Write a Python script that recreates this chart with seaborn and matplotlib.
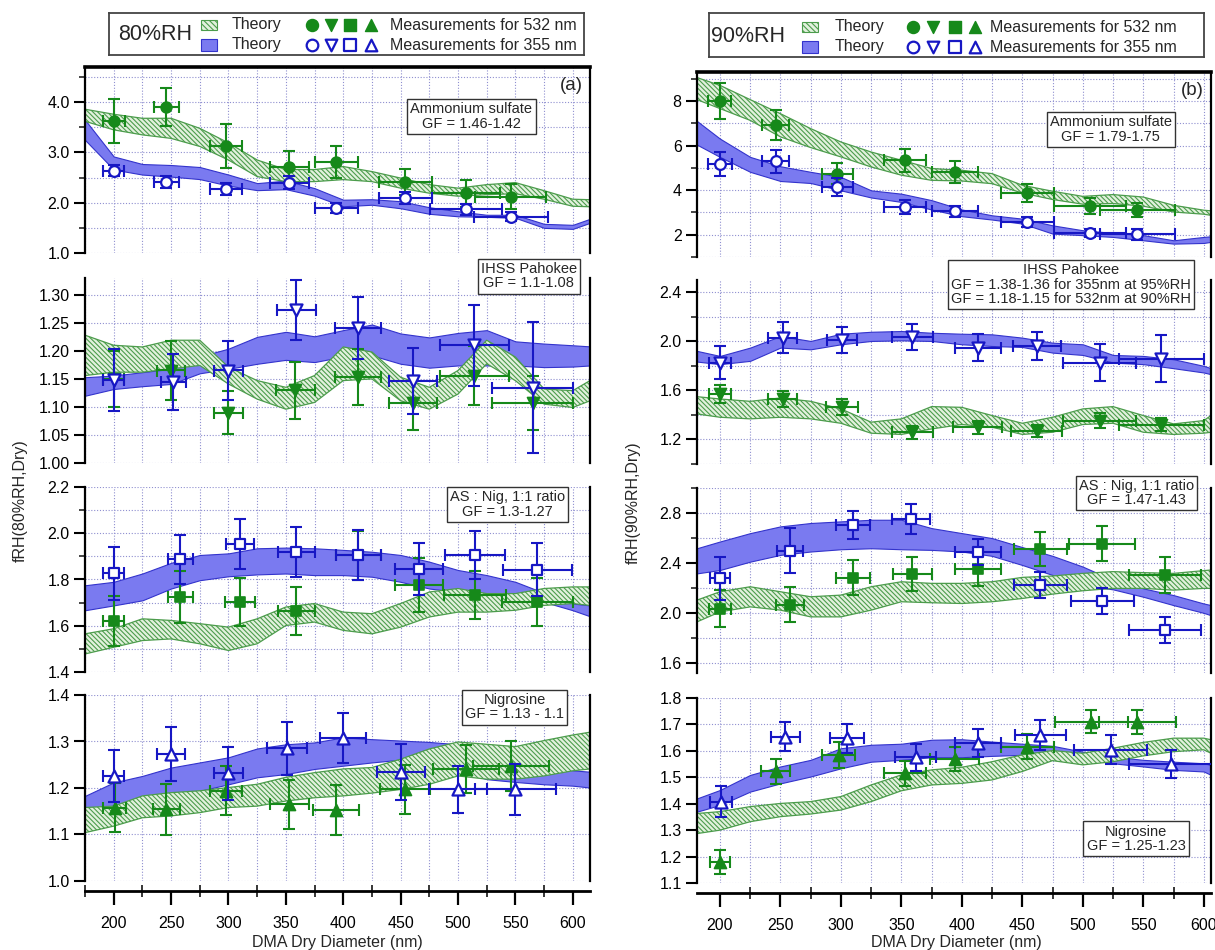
import matplotlib
matplotlib.use("Agg")
import matplotlib.pyplot as plt
import seaborn as sns
from matplotlib.ticker import MultipleLocator, FormatStrFormatter
from matplotlib.patches import Rectangle

# ---------------- data ----------------
XL = [175, 200, 225, 250, 275, 300, 325, 350, 375, 400, 425, 450, 475, 500, 525, 550, 575, 600, 615]
XR = [181, 200, 225, 250, 275, 300, 325, 350, 375, 400, 425, 450, 475, 500, 525, 550, 575, 600, 606]

# theory bands, 80%RH (left column)
as80_g_hi = [3.86, 3.76, 3.68, 3.68, 3.48, 3.19, 2.85, 2.66, 2.66, 2.72, 2.62, 2.49, 2.36, 2.29, 2.36, 2.40, 2.24, 2.07, 2.06]
as80_g_lo = [3.62, 3.45, 3.35, 3.28, 3.12, 2.85, 2.52, 2.42, 2.42, 2.46, 2.42, 2.29, 2.19, 2.13, 2.16, 2.18, 2.07, 1.93, 1.92]
as80_b_hi = [3.65, 2.92, 2.77, 2.75, 2.71, 2.56, 2.39, 2.44, 2.29, 2.06, 2.07, 2.03, 1.91, 1.83, 1.76, 1.76, 1.58, 1.56, 1.68]
as80_b_lo = [3.25, 2.66, 2.56, 2.52, 2.47, 2.34, 2.25, 2.27, 2.14, 1.93, 1.96, 1.89, 1.78, 1.73, 1.72, 1.70, 1.50, 1.48, 1.60]

ih80_g_hi = [1.228, 1.210, 1.207, 1.219, 1.219, 1.171, 1.147, 1.135, 1.156, 1.207, 1.198, 1.153, 1.135, 1.165, 1.219, 1.189, 1.132, 1.129, 1.147]
ih80_g_lo = [1.156, 1.162, 1.162, 1.168, 1.174, 1.141, 1.114, 1.096, 1.108, 1.147, 1.150, 1.111, 1.096, 1.123, 1.177, 1.147, 1.105, 1.099, 1.111]
ih80_b_hi = [1.153, 1.156, 1.162, 1.168, 1.190, 1.204, 1.225, 1.234, 1.226, 1.237, 1.247, 1.231, 1.224, 1.232, 1.237, 1.217, 1.213, 1.210, 1.208]
ih80_b_lo = [1.120, 1.132, 1.137, 1.141, 1.160, 1.168, 1.177, 1.184, 1.180, 1.190, 1.192, 1.177, 1.170, 1.174, 1.174, 1.174, 1.171, 1.172, 1.174]

mx80_g_hi = [1.565, 1.587, 1.630, 1.623, 1.609, 1.594, 1.630, 1.681, 1.696, 1.659, 1.652, 1.696, 1.746, 1.761, 1.739, 1.739, 1.761, 1.768, 1.768]
mx80_g_lo = [1.478, 1.507, 1.536, 1.543, 1.522, 1.493, 1.522, 1.601, 1.616, 1.580, 1.565, 1.594, 1.638, 1.659, 1.659, 1.667, 1.688, 1.696, 1.688]
mx80_b_hi = [1.775, 1.790, 1.826, 1.872, 1.906, 1.913, 1.935, 1.938, 1.935, 1.928, 1.920, 1.906, 1.877, 1.841, 1.819, 1.790, 1.742, 1.696, 1.688]
mx80_b_lo = [1.667, 1.688, 1.710, 1.761, 1.797, 1.814, 1.822, 1.826, 1.819, 1.819, 1.812, 1.790, 1.761, 1.746, 1.732, 1.720, 1.703, 1.667, 1.641]

ng80_g_hi = [1.158, 1.161, 1.183, 1.190, 1.194, 1.201, 1.208, 1.223, 1.233, 1.241, 1.244, 1.262, 1.284, 1.299, 1.294, 1.289, 1.302, 1.314, 1.320]
ng80_g_lo = [1.104, 1.118, 1.136, 1.140, 1.147, 1.158, 1.161, 1.172, 1.179, 1.183, 1.189, 1.197, 1.208, 1.226, 1.219, 1.219, 1.226, 1.237, 1.241]
ng80_b_hi = [1.183, 1.212, 1.226, 1.244, 1.255, 1.266, 1.285, 1.294, 1.298, 1.309, 1.305, 1.302, 1.299, 1.294, 1.270, 1.260, 1.245, 1.238, 1.235]
ng80_b_lo = [1.140, 1.163, 1.172, 1.179, 1.194, 1.208, 1.223, 1.230, 1.241, 1.248, 1.255, 1.261, 1.264, 1.237, 1.219, 1.213, 1.208, 1.205, 1.201]

# theory bands, 90%RH (right column)
as90_g_hi = [9.05, 8.70, 8.06, 7.43, 6.76, 6.16, 5.71, 5.34, 4.97, 4.89, 4.74, 4.22, 3.95, 3.72, 3.80, 3.69, 3.32, 3.10, 3.07]
as90_g_lo = [8.06, 7.66, 7.13, 6.39, 5.91, 5.49, 5.04, 4.67, 4.44, 4.41, 4.29, 3.87, 3.58, 3.37, 3.40, 3.28, 3.02, 2.92, 2.87]
as90_b_hi = [7.10, 6.31, 5.49, 5.07, 4.82, 4.59, 3.99, 3.84, 3.55, 3.13, 2.87, 2.72, 2.42, 2.20, 2.08, 1.98, 1.75, 1.90, 1.93]
as90_b_lo = [6.04, 5.49, 4.82, 4.41, 4.32, 3.99, 3.67, 3.47, 3.13, 2.83, 2.68, 2.50, 2.05, 1.98, 1.90, 1.75, 1.60, 1.63, 1.68]

ih90_g_hi = [1.549, 1.530, 1.511, 1.538, 1.511, 1.449, 1.341, 1.368, 1.468, 1.462, 1.395, 1.332, 1.381, 1.449, 1.468, 1.395, 1.327, 1.354, 1.395]
ih90_g_lo = [1.408, 1.381, 1.368, 1.381, 1.368, 1.332, 1.251, 1.241, 1.286, 1.322, 1.300, 1.241, 1.259, 1.322, 1.332, 1.259, 1.241, 1.251, 1.259]
ih90_b_hi = [1.922, 1.881, 1.949, 2.043, 2.003, 2.062, 2.078, 2.084, 2.070, 2.062, 2.057, 2.030, 1.989, 1.976, 1.889, 1.881, 1.854, 1.800, 1.781]
ih90_b_lo = [1.835, 1.814, 1.841, 1.949, 1.935, 1.976, 2.003, 2.008, 2.003, 1.976, 1.962, 1.954, 1.908, 1.889, 1.827, 1.814, 1.781, 1.746, 1.732]

mx90_g_hi = [2.103, 2.170, 2.210, 2.170, 2.130, 2.143, 2.210, 2.250, 2.237, 2.237, 2.250, 2.285, 2.296, 2.317, 2.331, 2.323, 2.317, 2.339, 2.344]
mx90_g_lo = [1.929, 2.009, 2.049, 2.023, 1.969, 1.969, 2.023, 2.090, 2.082, 2.076, 2.090, 2.116, 2.151, 2.178, 2.197, 2.197, 2.183, 2.197, 2.197]
mx90_b_hi = [2.518, 2.572, 2.639, 2.693, 2.720, 2.733, 2.746, 2.746, 2.679, 2.639, 2.599, 2.527, 2.457, 2.371, 2.264, 2.197, 2.143, 2.076, 2.063]
mx90_b_lo = [2.317, 2.344, 2.411, 2.465, 2.492, 2.510, 2.518, 2.510, 2.505, 2.492, 2.457, 2.384, 2.304, 2.224, 2.189, 2.130, 2.063, 2.001, 1.982]

ng90_g_hi = [1.363, 1.370, 1.389, 1.401, 1.408, 1.427, 1.471, 1.509, 1.528, 1.538, 1.559, 1.585, 1.601, 1.591, 1.610, 1.632, 1.648, 1.648, 1.642]
ng90_g_lo = [1.287, 1.300, 1.332, 1.351, 1.361, 1.376, 1.408, 1.449, 1.471, 1.477, 1.490, 1.522, 1.563, 1.547, 1.559, 1.581, 1.597, 1.604, 1.591]
ng90_b_hi = [1.420, 1.452, 1.509, 1.541, 1.566, 1.610, 1.623, 1.627, 1.642, 1.644, 1.635, 1.627, 1.619, 1.597, 1.578, 1.566, 1.559, 1.553, 1.547]
ng90_b_lo = [1.370, 1.395, 1.446, 1.477, 1.503, 1.534, 1.559, 1.566, 1.576, 1.576, 1.581, 1.585, 1.589, 1.576, 1.553, 1.541, 1.528, 1.522, 1.509]

# measurements, 80%RH: 532 nm (green) and 355 nm (blue)
as80_g_x = [200, 246, 298, 353, 394, 454, 507, 546]
as80_g_y = [3.62, 3.91, 3.13, 2.72, 2.81, 2.42, 2.19, 2.12]
as80_g_ye = [0.435, 0.38, 0.445, 0.30, 0.31, 0.26, 0.265, 0.25]
as80_g_xe = [9.5, 11, 14, 17, 19, 23, 30, 31]
as80_b_x = [200, 246, 298, 353, 394, 454, 507, 546]
as80_b_y = [2.64, 2.42, 2.27, 2.40, 1.89, 2.09, 1.87, 1.72]
as80_b_ye = [0.115, 0.12, 0.115, 0.135, 0.095, 0.115, 0.11, 0.09]
as80_b_xe = [9, 11, 14, 17, 19, 23, 31, 32]

ih80_g_x = [200, 250, 300, 358, 413, 461, 514, 565]
ih80_g_y = [1.150, 1.165, 1.090, 1.130, 1.153, 1.107, 1.156, 1.107]
ih80_g_ye = [0.05, 0.052, 0.038, 0.051, 0.05, 0.048, 0.052, 0.049]
ih80_g_xe = [9, 12, 13, 17, 20, 21, 30, 35]
ih80_b_x = [200, 252, 300, 359, 413, 461, 514, 565]
ih80_b_y = [1.148, 1.144, 1.165, 1.273, 1.241, 1.147, 1.210, 1.134]
ih80_b_ye = [0.056, 0.05, 0.052, 0.054, 0.056, 0.059, 0.072, 0.117]
ih80_b_xe = [9, 11, 13, 17, 20, 21, 30, 35]

mx80_g_x = [200, 258, 310, 359, 413, 466, 515, 569]
mx80_g_y = [1.620, 1.725, 1.703, 1.664, 1.905, 1.775, 1.732, 1.703]
mx80_g_ye = [0.107, 0.111, 0.104, 0.103, 0.105, 0.116, 0.104, 0.102]
mx80_g_xe = [9, 11, 13, 16, 19.5, 21, 27, 31]
mx80_b_x = [200, 258, 310, 359, 413, 466, 515, 569]
mx80_b_y = [1.826, 1.887, 1.954, 1.919, 1.906, 1.845, 1.906, 1.843]
mx80_b_ye = [0.116, 0.105, 0.107, 0.107, 0.108, 0.112, 0.103, 0.116]
mx80_b_xe = [9, 11, 12.5, 16, 19.5, 21, 26, 30]

ng80_g_x = [201, 246, 298, 353, 394, 454, 507, 546]
ng80_g_y = [1.158, 1.154, 1.194, 1.165, 1.152, 1.197, 1.241, 1.248]
ng80_g_ye = [0.053, 0.0545, 0.053, 0.053, 0.0535, 0.0535, 0.052, 0.054]
ng80_g_xe = [10, 12, 14, 17, 20, 22, 29, 33]
ng80_b_x = [200, 250, 300, 351, 400, 450, 500, 550]
ng80_b_y = [1.226, 1.273, 1.232, 1.285, 1.307, 1.235, 1.197, 1.197]
ng80_b_ye = [0.056, 0.059, 0.057, 0.056, 0.054, 0.06, 0.051, 0.054]
ng80_b_xe = [9, 12, 13, 17, 20, 21, 25, 35]

# measurements, 90%RH
as90_g_x = [200, 246, 297, 353, 394, 454, 506, 545]
as90_g_y = [8.00, 6.91, 4.74, 5.34, 4.82, 3.87, 3.29, 3.10]
as90_g_ye = [0.825, 0.67, 0.485, 0.52, 0.485, 0.41, 0.355, 0.315]
as90_g_xe = [9.5, 11, 13, 17, 19, 22, 30, 31]
as90_b_x = [200, 246, 297, 353, 394, 454, 506, 545]
as90_b_y = [5.16, 5.29, 4.14, 3.25, 3.05, 2.57, 2.08, 2.02]
as90_b_ye = [0.545, 0.525, 0.42, 0.30, 0.26, 0.225, 0.185, 0.245]
as90_b_xe = [10, 11, 13, 17, 19, 22, 30, 31]

ih90_g_x = [200, 252, 301, 359, 413, 462, 514, 565]
ih90_g_y = [1.570, 1.530, 1.468, 1.259, 1.300, 1.273, 1.354, 1.322]
ih90_g_ye = [0.0715, 0.0675, 0.065, 0.0545, 0.054, 0.049, 0.0595, 0.054]
ih90_g_xe = [9, 12, 13, 17, 20, 21, 30, 35]
ih90_b_x = [200, 252, 301, 359, 413, 462, 514, 565]
ih90_b_y = [1.827, 2.030, 2.008, 2.035, 1.949, 1.962, 1.827, 1.859]
ih90_b_ye = [0.135, 0.124, 0.105, 0.105, 0.112, 0.112, 0.15, 0.194]
ih90_b_xe = [9, 12, 12.6, 17, 19, 20, 30, 35]

mx90_g_x = [200, 258, 310, 359, 413, 465, 516, 568]
mx90_g_y = [2.036, 2.068, 2.283, 2.312, 2.352, 2.510, 2.553, 2.304]
mx90_g_ye = [0.15, 0.141, 0.141, 0.138, 0.134, 0.1355, 0.1395, 0.1445]
mx90_g_xe = [9, 11.5, 14, 16, 19, 22, 27, 30]
mx90_b_x = [200, 258, 310, 358, 413, 465, 516, 568]
mx90_b_y = [2.277, 2.500, 2.706, 2.752, 2.486, 2.224, 2.095, 1.862]
mx90_b_ye = [0.174, 0.1835, 0.111, 0.1165, 0.105, 0.1075, 0.106, 0.1045]
mx90_b_xe = [8.5, 11, 14, 16, 19, 22, 26, 30]

ng90_g_x = [200, 246, 298, 353, 394, 454, 507, 545]
ng90_g_y = [1.180, 1.522, 1.585, 1.515, 1.568, 1.616, 1.711, 1.708]
ng90_g_ye = [0.0465, 0.0475, 0.0485, 0.047, 0.046, 0.0475, 0.044, 0.0455]
ng90_g_xe = [8.5, 12, 14, 17, 20, 22, 30, 32]
ng90_b_x = [201, 254, 305, 362, 413, 465, 523, 573]
ng90_b_y = [1.408, 1.654, 1.648, 1.576, 1.629, 1.661, 1.604, 1.549]
ng90_b_ye = [0.06, 0.0555, 0.0545, 0.0505, 0.054, 0.057, 0.0555, 0.0535]
ng90_b_xe = [9, 12, 14, 17, 19, 21, 30, 35]

labels_80 = ["Ammonium sulfate\nGF = 1.46-1.42", "IHSS Pahokee\nGF = 1.1-1.08",
             "AS : Nig, 1:1 ratio\nGF = 1.3-1.27", "Nigrosine\nGF = 1.13 - 1.1"]
labels_90 = ["Ammonium sulfate\nGF = 1.79-1.75",
             "IHSS Pahokee\nGF = 1.38-1.36 for 355nm at 95%RH\nGF = 1.18-1.15 for 532nm at 90%RH",
             "AS : Nig, 1:1 ratio\nGF = 1.47-1.43", "Nigrosine\nGF = 1.25-1.23"]

# ---------------- style ----------------
GREEN = "#16891a"
BLUE = "#1717c4"
BLUE_FILL = "#7a7af0"
BLUE_EDGE = "#3333cc"
GREEN_FILL = "#e2f1dd"
GREEN_HATCH = "#4c9c4c"
HATCH = "\\" * 7
GRID = "#8f8fd0"
MARKERS = ["o", "v", "s", "^"]
MSIZE = [60, 75, 52, 75]

sns.set_theme(style="white")
plt.rcParams["font.family"] = ["Liberation Sans", "DejaVu Sans"]
plt.rcParams["hatch.linewidth"] = 0.8

W, H = 1215, 950
fig = plt.figure(figsize=(W / 100, H / 100), dpi=100)


def add_axes(x0, x1, y0, y1):
    return fig.add_axes([x0 / W, 1 - y1 / H, (x1 - x0) / W, (y1 - y0) / H])


def style_panel(ax, xlim, ylim, major, minor, fmt, first, last):
    ax.set_xlim(xlim)
    ax.set_ylim(ylim)
    ax.set_facecolor("white")
    ax.set_axisbelow(True)
    ax.xaxis.set_major_locator(MultipleLocator(50))
    ax.xaxis.set_minor_locator(MultipleLocator(25))
    ax.yaxis.set_major_locator(MultipleLocator(major))
    if minor:
        ax.yaxis.set_minor_locator(MultipleLocator(minor))
    ax.yaxis.set_major_formatter(FormatStrFormatter(fmt))
    ax.grid(True, which="both", color=GRID, linestyle=(0, (1, 1.6)), linewidth=0.8)
    ax.tick_params(axis="y", which="major", direction="out", length=8, width=1.5,
                   labelsize=11.5, pad=3, colors="black", left=True)
    ax.tick_params(axis="y", which="minor", direction="out", length=4, width=1.2, left=True)
    for side in ["left", "right"]:
        ax.spines[side].set_visible(True)
        ax.spines[side].set_color("black")
        ax.spines[side].set_linewidth(1.6)
    ax.spines["top"].set_visible(first)
    if first:
        ax.spines["top"].set_color("black")
        ax.spines["top"].set_linewidth(2.6)
    if last:
        sp = ax.spines["bottom"]
        sp.set_visible(True)
        sp.set_color("black")
        sp.set_linewidth(2)
        sp.set_position(("outward", 7))
        ax.tick_params(axis="x", which="major", direction="out", length=10, width=1.6,
                       labelsize=11.5, pad=8, bottom=True, colors="black")
        ax.tick_params(axis="x", which="minor", direction="inout", length=8, width=1.3, bottom=True)
        ax.xaxis.set_major_formatter(FormatStrFormatter("%d"))
    else:
        ax.spines["bottom"].set_visible(False)
        ax.tick_params(axis="x", which="both", bottom=False, labelbottom=False)


def draw_panel(ax, xb, g_hi, g_lo, b_hi, b_lo, gx, gy, gye, gxe, bx, by, bye, bxe, marker, msize):
    ax.fill_between(xb, b_lo, b_hi, facecolor=BLUE_FILL, edgecolor=BLUE_EDGE, linewidth=0.8, zorder=2)
    ax.fill_between(xb, g_lo, g_hi, facecolor=GREEN_FILL, edgecolor=GREEN_HATCH, hatch=HATCH,
                    linewidth=0.9, zorder=2.5)
    ax.errorbar(gx, gy, yerr=gye, xerr=gxe, fmt="none", ecolor=GREEN, elinewidth=1.5,
                capsize=4, capthick=1.5, zorder=3)
    sns.scatterplot(x=gx, y=gy, marker=marker, s=msize, color=GREEN, edgecolor=GREEN,
                    linewidth=1.2, ax=ax, zorder=4)
    ax.errorbar(bx, by, yerr=bye, xerr=bxe, fmt="none", ecolor=BLUE, elinewidth=1.5,
                capsize=4, capthick=1.5, zorder=5)
    sns.scatterplot(x=bx, y=by, marker=marker, s=msize, color="white", edgecolor=BLUE,
                    linewidth=1.6, ax=ax, zorder=6)
    ax.set_xlabel("")
    ax.set_ylabel("")


def box_text(ax, fx, fy, s):
    ax.text(fx, fy, s, transform=ax.transAxes, ha="center", va="center", fontsize=10.5,
            linespacing=1.05, zorder=20, clip_on=False,
            bbox=dict(boxstyle="square,pad=0.22", fc="white", ec="#333333", lw=1.0))


# panel geometry in pixels (top, bottom)
left_rows = [(67, 253), (278, 463), (487, 672), (695, 881)]
right_rows = [(72, 257), (280, 464), (488, 673), (698, 883)]

left_specs = [
    ((1.0, 4.7), 1.0, 0.5, "%.1f", as80_g_hi, as80_g_lo, as80_b_hi, as80_b_lo,
     as80_g_x, as80_g_y, as80_g_ye, as80_g_xe, as80_b_x, as80_b_y, as80_b_ye, as80_b_xe),
    ((1.0, 1.33), 0.05, None, "%.2f", ih80_g_hi, ih80_g_lo, ih80_b_hi, ih80_b_lo,
     ih80_g_x, ih80_g_y, ih80_g_ye, ih80_g_xe, ih80_b_x, ih80_b_y, ih80_b_ye, ih80_b_xe),
    ((1.4, 2.2), 0.2, 0.1, "%.1f", mx80_g_hi, mx80_g_lo, mx80_b_hi, mx80_b_lo,
     mx80_g_x, mx80_g_y, mx80_g_ye, mx80_g_xe, mx80_b_x, mx80_b_y, mx80_b_ye, mx80_b_xe),
    ((1.0, 1.4), 0.1, None, "%.1f", ng80_g_hi, ng80_g_lo, ng80_b_hi, ng80_b_lo,
     ng80_g_x, ng80_g_y, ng80_g_ye, ng80_g_xe, ng80_b_x, ng80_b_y, ng80_b_ye, ng80_b_xe),
]
right_specs = [
    ((1.0, 9.3), 2, 1, "%d", as90_g_hi, as90_g_lo, as90_b_hi, as90_b_lo,
     as90_g_x, as90_g_y, as90_g_ye, as90_g_xe, as90_b_x, as90_b_y, as90_b_ye, as90_b_xe),
    ((1.0, 2.5), 0.4, 0.2, "%.1f", ih90_g_hi, ih90_g_lo, ih90_b_hi, ih90_b_lo,
     ih90_g_x, ih90_g_y, ih90_g_ye, ih90_g_xe, ih90_b_x, ih90_b_y, ih90_b_ye, ih90_b_xe),
    ((1.52, 3.0), 0.4, 0.2, "%.1f", mx90_g_hi, mx90_g_lo, mx90_b_hi, mx90_b_lo,
     mx90_g_x, mx90_g_y, mx90_g_ye, mx90_g_xe, mx90_b_x, mx90_b_y, mx90_b_ye, mx90_b_xe),
    ((1.1, 1.8), 0.1, None, "%.1f", ng90_g_hi, ng90_g_lo, ng90_b_hi, ng90_b_lo,
     ng90_g_x, ng90_g_y, ng90_g_ye, ng90_g_xe, ng90_b_x, ng90_b_y, ng90_b_ye, ng90_b_xe),
]
left_boxes = [(0.765, 0.735), (0.879, 1.01), (0.837, 0.904), (0.851, 0.935)]
right_boxes = [(0.805, 0.69), (0.728, 0.975), (0.855, 0.973), (0.854, 0.238)]

columns = [
    (85, 590, (175, 615), XL, left_rows, left_specs, left_boxes, labels_80, "(a)"),
    (697, 1211, (181, 606), XR, right_rows, right_specs, right_boxes, labels_90, "(b)"),
]

for x0, x1, xlim, xb, rows, specs, boxes, labels, tag in columns:
    for i, ((yt, yb), spec, (bx_, by_), lab) in enumerate(zip(rows, specs, boxes, labels)):
        ax = add_axes(x0, x1, yt, yb)
        ylim, major, minor, fmt = spec[:4]
        draw_panel(ax, xb, *spec[4:], MARKERS[i], MSIZE[i])
        style_panel(ax, xlim, ylim, major, minor, fmt, i == 0, i == 3)
        box_text(ax, bx_, by_, lab)
        if i == 0:
            ax.text(0.963, 0.90, tag, transform=ax.transAxes, ha="center", va="center",
                    fontsize=13.5, zorder=20)

# axis labels
fig.text(20 / W, 1 - 501 / H, "fRH(80%RH,Dry)", rotation=90, ha="center", va="center", fontsize=11.5)
fig.text(633 / W, 1 - 503 / H, "fRH(90%RH,Dry)", rotation=90, ha="center", va="center", fontsize=11.5)
fig.text(337 / W, 1 - 942 / H, "DMA Dry Diameter (nm)", ha="center", va="center", fontsize=11.5)
fig.text(956 / W, 1 - 942 / H, "DMA Dry Diameter (nm)", ha="center", va="center", fontsize=11.5)


# legends (drawn in pixel coordinates of the picture)
def draw_legend(box, rh, rh_x, patch_x, theory_x, mk_x, meas_x, row_y):
    bx0, by0, bx1, by1 = box
    lax = add_axes(bx0, bx1, by0, by1)
    lax.set_xlim(bx0, bx1)
    lax.set_ylim(by1, by0)
    lax.set_xticks([])
    lax.set_yticks([])
    lax.set_facecolor("white")
    for s in lax.spines.values():
        s.set_visible(True)
        s.set_color("#444444")
        s.set_linewidth(1.3)
    lax.text(rh_x, (by0 + by1) / 2 + 1, rh, ha="left", va="center", fontsize=15.5)
    lax.add_patch(Rectangle((patch_x, row_y[0] - 5), 16, 10, facecolor=GREEN_FILL,
                            edgecolor=GREEN_HATCH, hatch="\\" * 6, linewidth=0.8))
    lax.add_patch(Rectangle((patch_x, row_y[1] - 6), 16, 12, facecolor=BLUE_FILL,
                            edgecolor=BLUE_EDGE, linewidth=0.8))
    for yy in row_y:
        lax.text(theory_x, yy, "Theory", ha="left", va="center", fontsize=11.5)
    for m, xx in zip(MARKERS, mk_x):
        lax.scatter([xx], [row_y[0]], marker=m, s=75, color=GREEN, edgecolors=GREEN, zorder=3)
        lax.scatter([xx], [row_y[1]], marker=m, s=70, color="white", edgecolors=BLUE,
                    linewidths=1.6, zorder=3)
    lax.text(meas_x, row_y[0], "Measurements for 532 nm", ha="left", va="center", fontsize=11.5)
    lax.text(meas_x, row_y[1], "Measurements for 355 nm", ha="left", va="center", fontsize=11.5)


draw_legend((109, 13, 584, 55), "80%RH", 118, 201, 232, [312, 331, 350, 371], 390, [25, 45])
draw_legend((709, 13, 1204, 57), "90%RH", 711, 802, 835, [913, 933, 955, 975], 990, [27, 47])

fig.savefig("out.png", dpi=100)
